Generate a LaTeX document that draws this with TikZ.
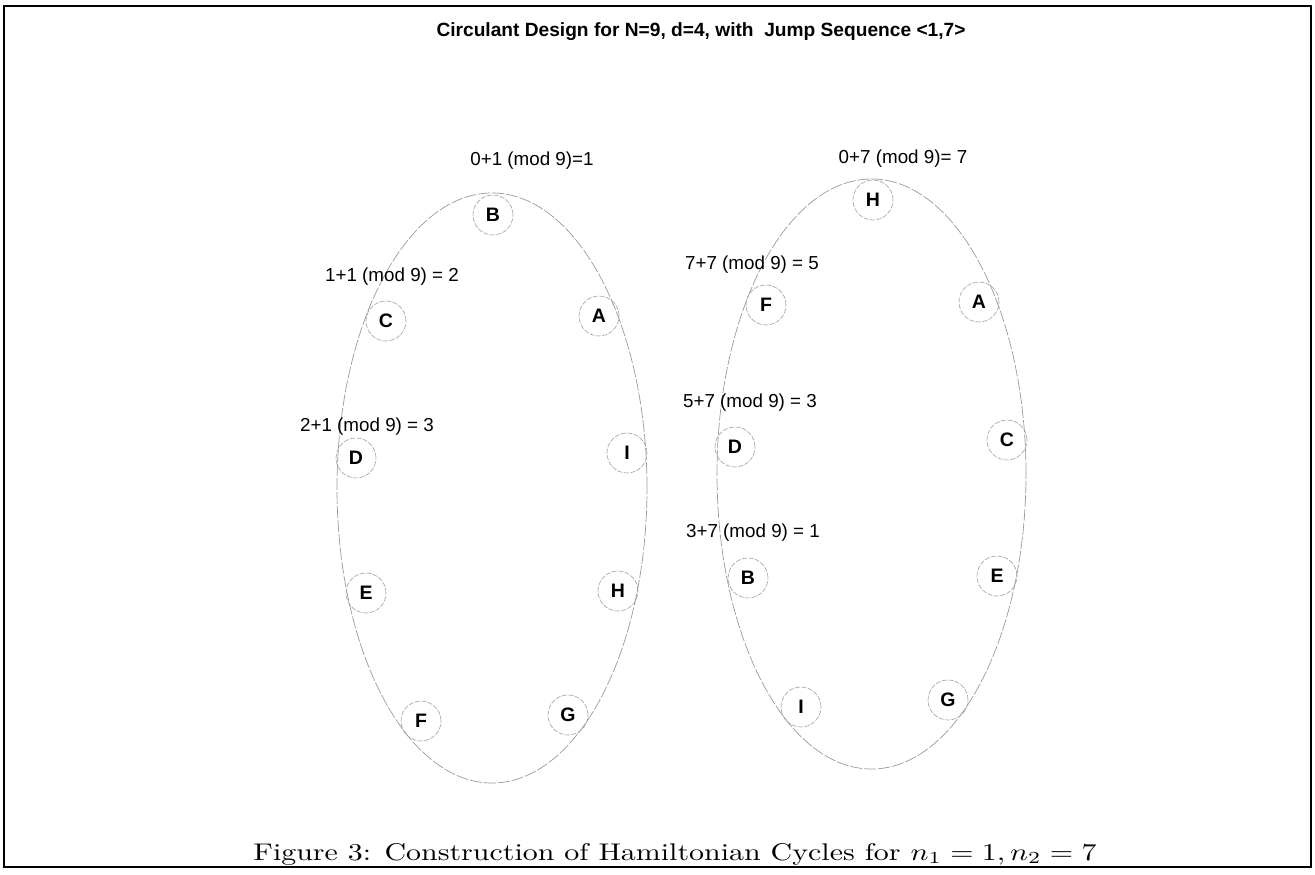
\documentclass[tikz,border=0pt]{standalone}
\usepackage{fontspec}
\newfontfamily\labfont{Liberation Sans}
\begin{document}
\begin{tikzpicture}[x=1pt,y=-1pt,
  vtx/.style={circle, draw=gray!75, line width=0.6pt, dash pattern=on 5pt off 1.5pt,
    minimum size=40pt, inner sep=0pt, font=\labfont\bfseries\fontsize{19.5}{22}\selectfont},
  ring/.style={draw=gray!80, line width=0.7pt, dash pattern=on 12pt off 2pt},
  lab/.style={inner sep=0pt, font=\labfont\fontsize{18.8}{22}\selectfont}]
\useasboundingbox (0,0) rectangle (1315,875);
% frame
\draw[line width=1.3pt] (4,6) rectangle (1311,867);
% title and caption
\node[inner sep=0pt, anchor=base] (title) at (701,37)
  {\resizebox{529pt}{!}{\labfont\bfseries Circulant Design for N=9, d=4, with\ \ Jump Sequence <1,7>}};
\node[inner sep=0pt, anchor=north] (caption) at (675,843)
  {\resizebox{843pt}{17pt}{Figure 3: Construction of Hamiltonian Cycles for $n_1=1, n_2=7$}};

% cycle for jump 1
\draw[ring] (492,488) ellipse [x radius=155pt, y radius=295pt];
\node[vtx] (lB) at (493,215) {B};
\node[vtx] (lA) at (599,316) {A};
\node[vtx] (lC) at (386,321) {C};
\node[vtx] (lI) at (627,453) {I};
\node[vtx] (lD) at (356,458) {D};
\node[vtx] (lE) at (366,593) {E};
\node[vtx] (lH) at (618,591) {H};
\node[vtx] (lF) at (421,721) {F};
\node[vtx] (lG) at (568,715) {G};
\node[lab] (l1) at (532,161) {0+1 (mod 9)=1};
\node[lab] (l2) at (392,277) {1+1 (mod 9) = 2};
\node[lab] (l3) at (367,427) {2+1 (mod 9) = 3};

% cycle for jump 7
\draw[ring] (871.5,474) ellipse [x radius=154.5pt, y radius=295pt];
\node[vtx] (rH) at (873,200) {H};
\node[vtx] (rF) at (766,305) {F};
\node[vtx] (rA) at (979,302) {A};
\node[vtx] (rD) at (735,447) {D};
\node[vtx] (rC) at (1007,440) {C};
\node[vtx] (rB) at (748,578) {B};
\node[vtx] (rE) at (997,576) {E};
\node[vtx] (rI) at (801,707) {I};
\node[vtx] (rG) at (948,700) {G};
\node[lab] (r1) at (903,159) {0+7 (mod 9)= 7};
\node[lab] (r2) at (752,265) {7+7 (mod 9) = 5};
\node[lab] (r3) at (750,403) {5+7 (mod 9) = 3};
\node[lab] (r4) at (753,533) {3+7 (mod 9) = 1};
\end{tikzpicture}
\end{document}
